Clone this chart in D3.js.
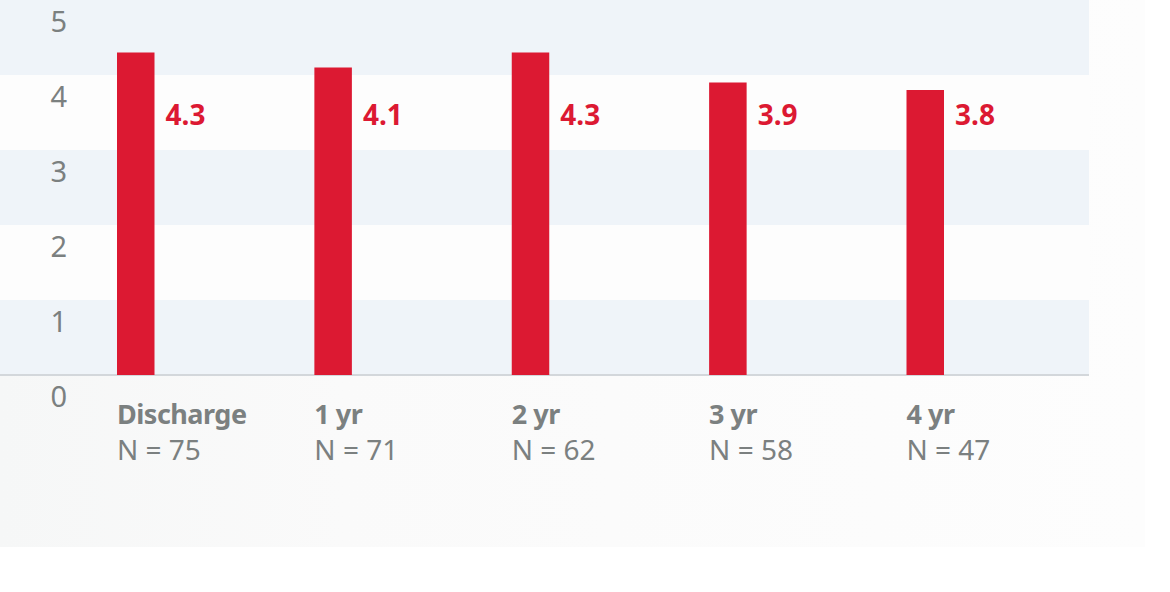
<!DOCTYPE html>
<html>
<head>
<meta charset="utf-8">
<script src="https://cdn.jsdelivr.net/npm/d3@7"></script>
<style>
  body { margin: 0; background: #fff; }
  svg { display: block; }
</style>
</head>
<body>
<div id="chart"></div>
<script>
// chart data
const categories = ["Discharge", "1 yr", "2 yr", "3 yr", "4 yr"];
const sampleSizes = ["N = 75", "N = 71", "N = 62", "N = 58", "N = 47"];
const values = [4.3, 4.1, 4.3, 3.9, 3.8];
const yTicks = [0, 1, 2, 3, 4, 5];

const width = 1170;
const height = 592;
const red = "#dc1932";
const grey = "#7b8080";
const font = "'Noto Sans', 'Open Sans', sans-serif";

const svg = d3.select("#chart")
  .append("svg")
  .attr("width", width)
  .attr("height", height);

// faded background panel
const defs = svg.append("defs");
const grad = defs.append("linearGradient").attr("id", "bg").attr("x1", 0).attr("x2", 1);
grad.append("stop").attr("offset", 0).attr("stop-color", "#f6f7f7");
grad.append("stop").attr("offset", 0.3).attr("stop-color", "#fafafa");
grad.append("stop").attr("offset", 1).attr("stop-color", "#fdfdfd");
svg.append("rect")
  .attr("x", 0).attr("y", 0)
  .attr("width", 1145).attr("height", 547)
  .attr("fill", "url(#bg)");

const y = d3.scaleLinear().domain([0, 5]).range([375, 0]);
const x = d3.scaleBand()
  .domain(categories)
  .range([117, 944])
  .paddingInner(0.81)
  .paddingOuter(0);

// alternating bands
svg.append("g")
  .selectAll("rect")
  .data(yTicks.slice(0, -1))
  .join("rect")
  .attr("x", 0)
  .attr("y", d => y(d + 1))
  .attr("width", 1089)
  .attr("height", d => y(d) - y(d + 1))
  .attr("fill", d => d % 2 === 0 ? "#eff4f9" : "#fdfdfd");

// baseline
svg.append("line")
  .attr("x1", 0).attr("x2", 1089)
  .attr("y1", y(0)).attr("y2", y(0))
  .attr("stroke", "#d3d7db")
  .attr("stroke-width", 2);

// y tick labels (sit below their grid line)
svg.append("g")
  .selectAll("text")
  .data(yTicks)
  .join("text")
  .attr("x", 67)
  .attr("y", d => y(d) + 32)
  .attr("text-anchor", "end")
  .attr("fill", grey)
  .style("font-family", font)
  .style("font-size", "29px")
  .text(d => d);

// bars
svg.append("g")
  .selectAll("rect")
  .data(values)
  .join("rect")
  .attr("x", (d, i) => x(categories[i]))
  .attr("y", d => y(d))
  .attr("width", x.bandwidth())
  .attr("height", d => y(0) - y(d))
  .attr("fill", red);

// value labels
svg.append("g")
  .selectAll("text")
  .data(values)
  .join("text")
  .attr("x", (d, i) => x(categories[i]) + x.bandwidth() + 11)
  .attr("y", 125)
  .attr("fill", red)
  .style("font-family", font)
  .style("font-size", "28px")
  .style("font-weight", "bold")
  .text(d => d.toFixed(1));

// category labels
const lab = svg.append("g")
  .selectAll("g")
  .data(categories)
  .join("g")
  .attr("transform", d => `translate(${x(d)},0)`);

lab.append("text")
  .attr("y", 424)
  .attr("fill", grey)
  .style("font-family", font)
  .style("font-size", "27px")
  .style("font-weight", "bold")
  .style("letter-spacing", "-0.5px")
  .text(d => d);

lab.append("text")
  .attr("y", 460)
  .attr("fill", grey)
  .style("font-family", font)
  .style("font-size", "28px")
  .text((d, i) => sampleSizes[i]);
</script>
</body>
</html>
